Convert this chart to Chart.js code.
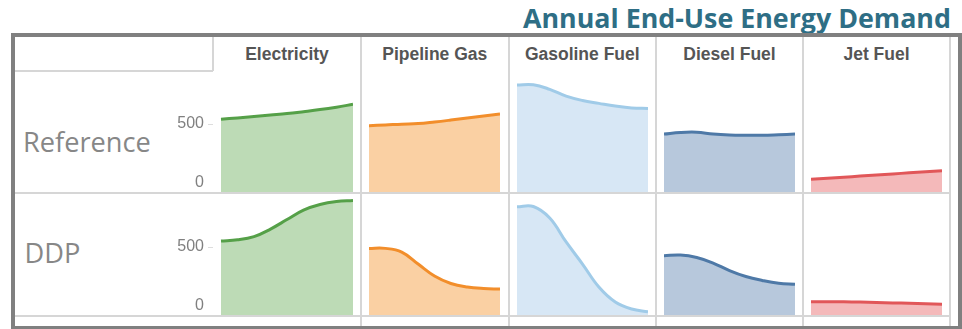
<!DOCTYPE html>
<html>
<head>
<meta charset="utf-8">
<title>Annual End-Use Energy Demand</title>
<script src="https://cdn.jsdelivr.net/npm/chart.js@4/dist/chart.umd.min.js"></script>
<style>
  html, body { margin: 0; padding: 0; background: #fff; }
  #wrap { position: relative; width: 962px; height: 329px; overflow: hidden; }
  #wrap > * { position: absolute; }
  .frame { left: 11px; top: 33px; width: 951px; height: 297px; border: 4px solid #808080; box-sizing: border-box; }
  .vline { width: 2px; background: #d6d6d6; }
  .hline { height: 2px; background: #d6d6d6; }
  .title { left: 523px; top: 0; font: bold 26.8px "Open Sans", sans-serif; line-height: 36px; color: #2e6e85; white-space: nowrap; }
  .head { top: 44px; height: 22px; line-height: 22px; text-align: center; font: bold 17.5px "Liberation Sans", Arial, sans-serif; color: #555; white-space: nowrap; }
  .row { font: 27.2px "Open Sans", sans-serif; line-height: 36px; color: #878787; white-space: nowrap; }
  canvas { display: block; }
</style>
</head>
<body>
<div id="wrap">
  <div class="title">Annual End-Use Energy Demand</div>
  <div class="frame"></div>
</div>
<script>
// years along each small chart
const years = ['2010', '2015', '2020', '2025', '2030', '2035', '2040', '2045', '2050'];
const fuels = ['Electricity', 'Pipeline Gas', 'Gasoline Fuel', 'Diesel Fuel', 'Jet Fuel'];
const scenarios = ['Reference', 'DDP'];
const yTicks = [0, 500];
const yMax = 890;

// Reference scenario
const refElectricity = [535, 545, 555, 566, 577, 591, 606, 624, 645];
const refPipelineGas = [488, 493, 499, 503, 515, 529, 544, 559, 574];
const refGasoline = [787, 789, 755, 705, 673, 652, 632, 618, 615];
const refDiesel = [426, 438, 440, 426, 419, 417, 417, 421, 426];
const refJet = [93, 101, 109, 117, 125, 133, 141, 149, 157];

// DDP scenario
const ddpElectricity = [544, 553, 577, 632, 702, 772, 813, 835, 843];
const ddpPipelineGas = [490, 490, 463, 375, 287, 232, 206, 195, 191];
const ddpGasoline = [796, 798, 713, 537, 375, 206, 96, 44, 24];
const ddpDiesel = [436, 441, 423, 382, 327, 283, 254, 233, 226];
const ddpJet = [98, 98, 97, 95, 92, 89, 86, 82, 79];

const seriesByRow = [
  [refElectricity, refPipelineGas, refGasoline, refDiesel, refJet],
  [ddpElectricity, ddpPipelineGas, ddpGasoline, ddpDiesel, ddpJet]
];
const lineColors = ['#55a048', '#f28e2b', '#a0cbe8', '#4e79a7', '#e15759'];
const fillColors = ['#bddbb6', '#fad0a3', '#d7e7f5', '#b7c8dc', '#f4b9ba'];

const wrap = document.getElementById('wrap');
const colEdges = [213, 361, 508.5, 656, 803, 950];
const rowTops = [71, 194];
const rowHeight = 121;

function add(cls, css, text) {
  const d = document.createElement('div');
  d.className = cls;
  Object.assign(d.style, css);
  if (text) d.textContent = text;
  wrap.appendChild(d);
  return d;
}

// table rules
add('hline', { left: '15px', top: '70px', width: '198px' });
add('vline', { left: '212px', top: '37px', height: '34px' });
colEdges.slice(1).forEach(x => add('vline', { left: (x - 1) + 'px', top: '37px', height: '289px' }));
add('hline', { left: '15px', top: '192px', width: '936px' });
add('hline', { left: '15px', top: '315px', width: '936px' });

// column and row headers
fuels.forEach((f, i) => add('head', { left: colEdges[i] + 'px', width: (colEdges[i + 1] - colEdges[i]) + 'px' }, f));
add('row', { left: '23px', top: '124px' }, scenarios[0]);
add('row', { left: '24.5px', top: '234.5px' }, scenarios[1]);

// value labels left of the first column, clamped inside the pane
const tickLabels = {
  id: 'tickLabels',
  afterDraw(chart) {
    const { ctx, chartArea, scales: { y } } = chart;
    ctx.save();
    ctx.font = '16px "Liberation Sans", Arial, sans-serif';
    ctx.fillStyle = '#808080';
    ctx.textAlign = 'right';
    ctx.textBaseline = 'middle';
    yTicks.forEach(v => {
      const py = Math.min(y.getPixelForValue(v), chartArea.bottom - 9);
      ctx.fillText(String(v), chartArea.left - 17, py);
      if (v > 0) {
        ctx.strokeStyle = '#dddddd';
        ctx.lineWidth = 1;
        ctx.beginPath();
        ctx.moveTo(chartArea.left - 13, py + 0.5);
        ctx.lineTo(chartArea.left - 8, py + 0.5);
        ctx.stroke();
      }
    });
    ctx.restore();
  }
};

seriesByRow.forEach((row, r) => {
  row.forEach((values, c) => {
    const first = c === 0;
    const plotLeft = colEdges[c] + 8;
    const plotWidth = colEdges[c + 1] - colEdges[c] - 16;
    const padLeft = first ? 71 : 0;
    const cv = document.createElement('canvas');
    cv.width = plotWidth + padLeft;
    cv.height = rowHeight;
    cv.style.position = 'absolute';
    cv.style.left = (plotLeft - padLeft) + 'px';
    cv.style.top = rowTops[r] + 'px';
    wrap.appendChild(cv);

    new Chart(cv, {
      type: 'line',
      data: {
        labels: years,
        datasets: [{
          data: values,
          borderColor: lineColors[c],
          backgroundColor: fillColors[c],
          borderWidth: 3,
          fill: 'origin',
          pointRadius: 0,
          tension: 0.4
        }]
      },
      options: {
        responsive: false,
        animation: false,
        devicePixelRatio: 1,
        layout: { padding: { left: padLeft, right: 0, top: 0, bottom: 0 } },
        plugins: { legend: { display: false }, tooltip: { enabled: false } },
        scales: {
          x: { display: false, offset: false },
          y: { display: false, min: 0, max: yMax }
        }
      },
      plugins: first ? [tickLabels] : []
    });
  });
});
</script>
</body>
</html>
